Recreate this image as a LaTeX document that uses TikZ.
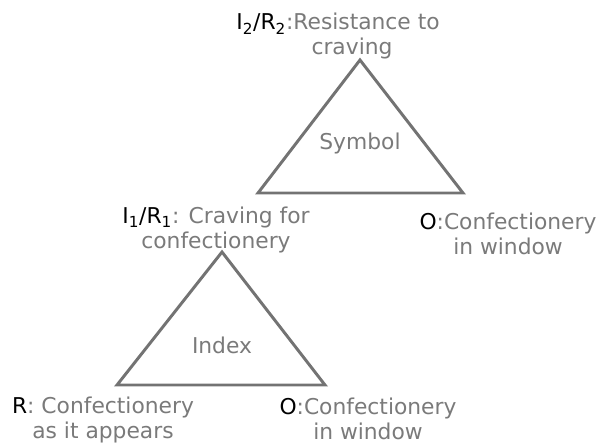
\documentclass[tikz,border=0pt]{standalone}
\usepackage{fontspec}
\setmainfont{DejaVu Sans}
\usepackage{xcolor}
\usetikzlibrary{positioning}
\definecolor{tgray}{HTML}{737373}
\definecolor{lgray}{HTML}{7A7A7A}
\tikzset{
  % grey outline of a sign triangle
  tri/.style  = {draw=tgray, line width=2.1pt, line join=miter},
  lbl/.style  = {font=\fontsize{15.5}{17.5}\selectfont, text=lgray, align=center, inner sep=0pt},
  kind/.style = {font=\fontsize{15.5}{17.5}\selectfont, text=lgray, inner sep=0pt},
}
\newcommand{\pfx}[1]{\textcolor{black}{#1}}

\begin{document}
\begin{tikzpicture}[x=0.025cm,y=-0.025cm]
\useasboundingbox (0,0) rectangle (600,443);
% symbol triangle
\coordinate (sTop) at (360,60);
\coordinate (sLeft) at (258,193);
\coordinate (sRight) at (463,193);
\draw[tri] (sTop) -- (sLeft) -- (sRight) -- cycle;
\node[kind] (symbol) at (360,143) {Symbol};
% index triangle
\coordinate (iTop) at (222,252);
\coordinate (iLeft) at (117,385);
\coordinate (iRight) at (325,385);
\draw[tri] (iTop) -- (iLeft) -- (iRight) -- cycle;
\node[kind] (index) at (222,345) {Index};
% corner labels
\node[lbl] (interp2) at (338,36)  {\pfx{I\textsubscript{2}/R\textsubscript{2}}:Resistance to\\\hspace*{0.7cm}craving};
\node[lbl] (interp1) at (216,230) {\pfx{I\textsubscript{1}/R\textsubscript{1}}: Craving for\\confectionery};
\node[lbl] (objTop)  at (508,234) {\pfx{O}:Confectionery\\in window};
\node[lbl] (repr)    at (103,420) {\pfx{R}: Confectionery\\as it appears};
\node[lbl] (objLow)  at (368,419) {\pfx{O}:Confectionery\\in window};
\end{tikzpicture}
\end{document}
